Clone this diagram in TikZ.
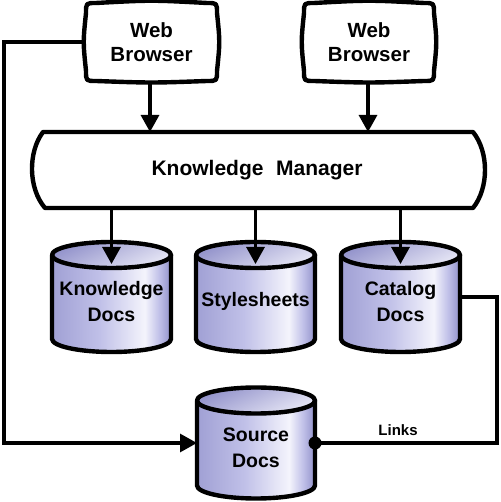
\documentclass[tikz,border=0pt]{standalone}
\usepackage{fontspec}
\setmainfont{Liberation Sans}
\usetikzlibrary{arrows.meta,calc}
\definecolor{cylA}{RGB}{160,160,212}
\definecolor{cylB}{RGB}{192,192,232}
\definecolor{cylW}{RGB}{244,244,252}
\definecolor{cylC}{RGB}{145,145,202}
\definecolor{cylT}{RGB}{145,145,202}
\definecolor{cylTL}{RGB}{232,232,246}
\pgfdeclarehorizontalshading{cylbody}{100bp}{color(0bp)=(cylA); color(25bp)=(cylA); color(45bp)=(cylB); color(64bp)=(cylW); color(70bp)=(cylB); color(75bp)=(cylC); color(100bp)=(cylC)}
\tikzset{
  boxline/.style={line width=4.4pt, line join=round, draw=black},
  conn/.style={line width=3.1pt, draw=black},
  arr/.style={conn, -{Triangle[length=17pt,width=18pt]}},
  holder/.style={draw=none, inner sep=0pt, outer sep=0pt},
  lbl/.style={font=\bfseries\fontsize{20.5}{24}\selectfont, align=center, inner sep=0pt},
  cyllbl/.style={font=\bfseries\fontsize{19.5}{26}\selectfont, align=center, inner sep=0pt},
}
% TV-like box outline around a placeholder node
\newcommand\tvoutline[1]{%
  \draw[boxline, fill=white] ([xshift=10]#1.north west) .. controls ([yshift=3]#1.north) .. ([xshift=-10]#1.north east)
    .. controls (#1.north east) .. ([yshift=-10]#1.north east)
    .. controls ([xshift=3]#1.east) .. ([yshift=10]#1.south east)
    .. controls (#1.south east) .. ([xshift=-10]#1.south east)
    .. controls ([yshift=-2]#1.south) .. ([xshift=10]#1.south west)
    .. controls (#1.south west) .. ([yshift=10]#1.south west)
    .. controls ([xshift=-3]#1.west) .. ([yshift=-10]#1.north west)
    .. controls (#1.north west) .. ([xshift=10]#1.north west) -- cycle;}
% cylinder: name, cx, cy, w, h, text
\newcommand\dbcyl[6]{%
  \pgfmathsetmacro\cxl{#2-#4/2}\pgfmathsetmacro\cxr{#2+#4/2}%
  \pgfmathsetmacro\cyt{#3+#5/2-13}\pgfmathsetmacro\cyb{#3-#5/2+13}%
  \pgfmathsetmacro\rx{#4/2}%
  \node[holder, minimum width=#4, minimum height=#5] (#1) at (#2,#3) {};
  \shade[shading=cylbody] (\cxl,\cyt) -- (\cxl,\cyb) arc[start angle=180, end angle=360, x radius=\rx, y radius=13] -- (\cxr,\cyt) arc[start angle=0, end angle=180, x radius=\rx, y radius=13] -- cycle;
  \draw[boxline] (\cxl,\cyt) -- (\cxl,\cyb) arc[start angle=180, end angle=360, x radius=\rx, y radius=13] -- (\cxr,\cyt);
  \shade[top color=cylT, bottom color=cylTL, shading angle=25] (#2,\cyt) ellipse[x radius=\rx, y radius=13];
  \draw[boxline] (#2,\cyt) ellipse[x radius=\rx, y radius=13];
  \node[cyllbl] (#1-t) at (#2,{(\cyt+\cyb-13)/2+2}) {#6};
}
\begin{document}
\begin{tikzpicture}[x=1pt,y=1pt]
\useasboundingbox (0,0) rectangle (500,502);

% Web browsers
\node[holder, minimum width=131, minimum height=78] (wb1) at (151.5,460) {};
\node[holder, minimum width=130, minimum height=78] (wb2) at (369,460) {};
\tvoutline{wb1}
\tvoutline{wb2}
\node[lbl] (wb1-t) at (wb1) {Web\\Browser};
\node[lbl] (wb2-t) at (wb2) {Web\\Browser};

% Knowledge manager
\node[holder, minimum width=430, minimum height=76] (km) at (258,332) {};
\draw[boxline, fill=white] (43,370) -- (473,370) .. controls (489,350) and (489,314) .. (473,294)
  -- (45,294) .. controls (28,314) and (28,350) .. (43,370) -- cycle;
\node[lbl, font=\bfseries\fontsize{21}{24}\selectfont] (km-t) at (257,332) {Knowledge\hspace{0.6em}Manager};

% Cylinders
\dbcyl{kd}{111.5}{205}{119}{110}{Knowledge\\Docs}
\dbcyl{ss}{255.5}{205}{119}{110}{Stylesheets}
\dbcyl{cd}{400.5}{205}{119}{110}{Catalog\\Docs}
\dbcyl{sd}{256}{59}{118}{111}{Source\\Docs}

% Arrows from browsers to manager
\draw[arr] (wb1.south -| 150,0) -- (150,370);
\draw[arr] (wb2.south -| 368,0) -- (368,370);

% Arrows from manager to stores
\draw[arr] (km.south -| kd.north) -- ([yshift=-22]kd.north);
\draw[arr] (km.south -| ss.north) -- ([yshift=-22]ss.north);
\draw[arr] (km.south -| cd.north) -- ([yshift=-22]cd.north);

% Left loop from browser to source docs
\coordinate (lb) at (4,250);
\draw[conn, -{Triangle[length=17pt,width=18pt]}] (wb1.west) -| (lb) |- (sd.west);

% Right link from catalog to source docs
\coordinate (rb) at (497,150);
\draw[conn] (cd.east) -| (rb) |- (sd.east);
\fill (sd.east) circle (6.5);
\node[font=\bfseries\fontsize{15}{16}\selectfont, inner sep=0pt] (links) at (398,72) {Links};
\end{tikzpicture}
\end{document}
